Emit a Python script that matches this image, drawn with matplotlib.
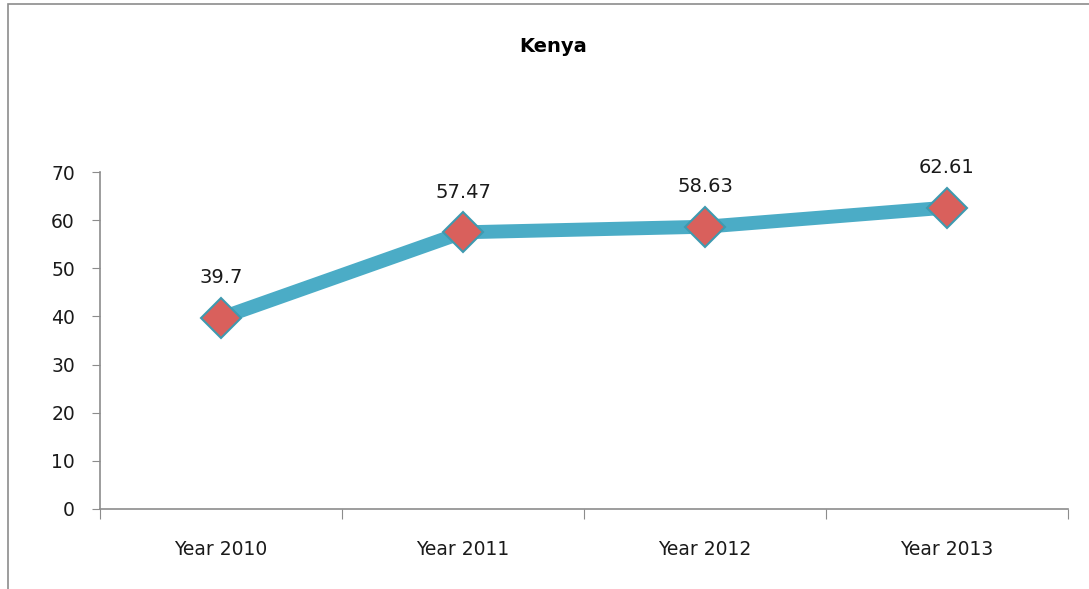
import matplotlib
matplotlib.use("Agg")
import matplotlib.pyplot as plt
from matplotlib.patches import Rectangle
import numpy as np

categories = ["Year 2010", "Year 2011", "Year 2012", "Year 2013"]
values = [39.7, 57.47, 58.63, 62.61]
labels = ["39.7", "57.47", "58.63", "62.61"]
yticks = [0, 10, 20, 30, 40, 50, 60, 70]

plt.rcParams['font.family'] = ['DejaVu Sans']

fig = plt.figure(figsize=(10.89, 5.89), dpi=100)
fig.patch.set_facecolor('white')
# outer frame
fig.add_artist(Rectangle((8/1089, -0.05), 1.2, 1 - 4/589 + 0.05, transform=fig.transFigure,
                         fill=False, edgecolor='#8c8c8c', linewidth=1.2))

ax = fig.add_axes([100/1089, 1 - 509/589, 968/1089, 337/589])
x = np.arange(len(categories))
ax.plot(x, values, color='#4BACC6', linewidth=10, solid_capstyle='round', zorder=2)
ax.plot(x, values, linestyle='none', marker='D', markersize=20,
        markerfacecolor='#D9605C', markeredgecolor='#3E9AB0', markeredgewidth=1.5, zorder=3)
for xi, v, lab in zip(x, values, labels):
    ax.annotate(lab, (xi, v), xytext=(0, 40), textcoords='offset pixels',
                ha='center', va='center', fontsize=14, color='#1a1a1a')

ax.set_xlim(-0.5, len(categories) - 0.5)
ax.set_ylim(0, 70)
ax.set_yticks(yticks)
ax.set_yticklabels([str(t) for t in yticks], fontsize=13.5, color='#1a1a1a')
ax.set_xticks(np.arange(-0.5, len(categories), 1.0))
ax.set_xticklabels([])
ax.set_xticks(x, minor=True)
ax.set_xticklabels(categories, minor=True, fontsize=13.5, color='#1a1a1a')
ax.tick_params(axis='x', which='major', length=7, color='#8c8c8c', direction='out')
ax.tick_params(axis='x', which='minor', length=0, pad=22)
ax.tick_params(axis='y', length=6, color='#8c8c8c', direction='out', pad=12)
for s in ['top', 'right']:
    ax.spines[s].set_visible(False)
for s in ['left', 'bottom']:
    ax.spines[s].set_color('#8c8c8c')
    ax.spines[s].set_linewidth(1.2)

fig.text(553/1089, 1 - 47/589, "Kenya", ha='center', va='center', fontsize=14, fontweight='bold')

fig.savefig('out.png', dpi=100)
